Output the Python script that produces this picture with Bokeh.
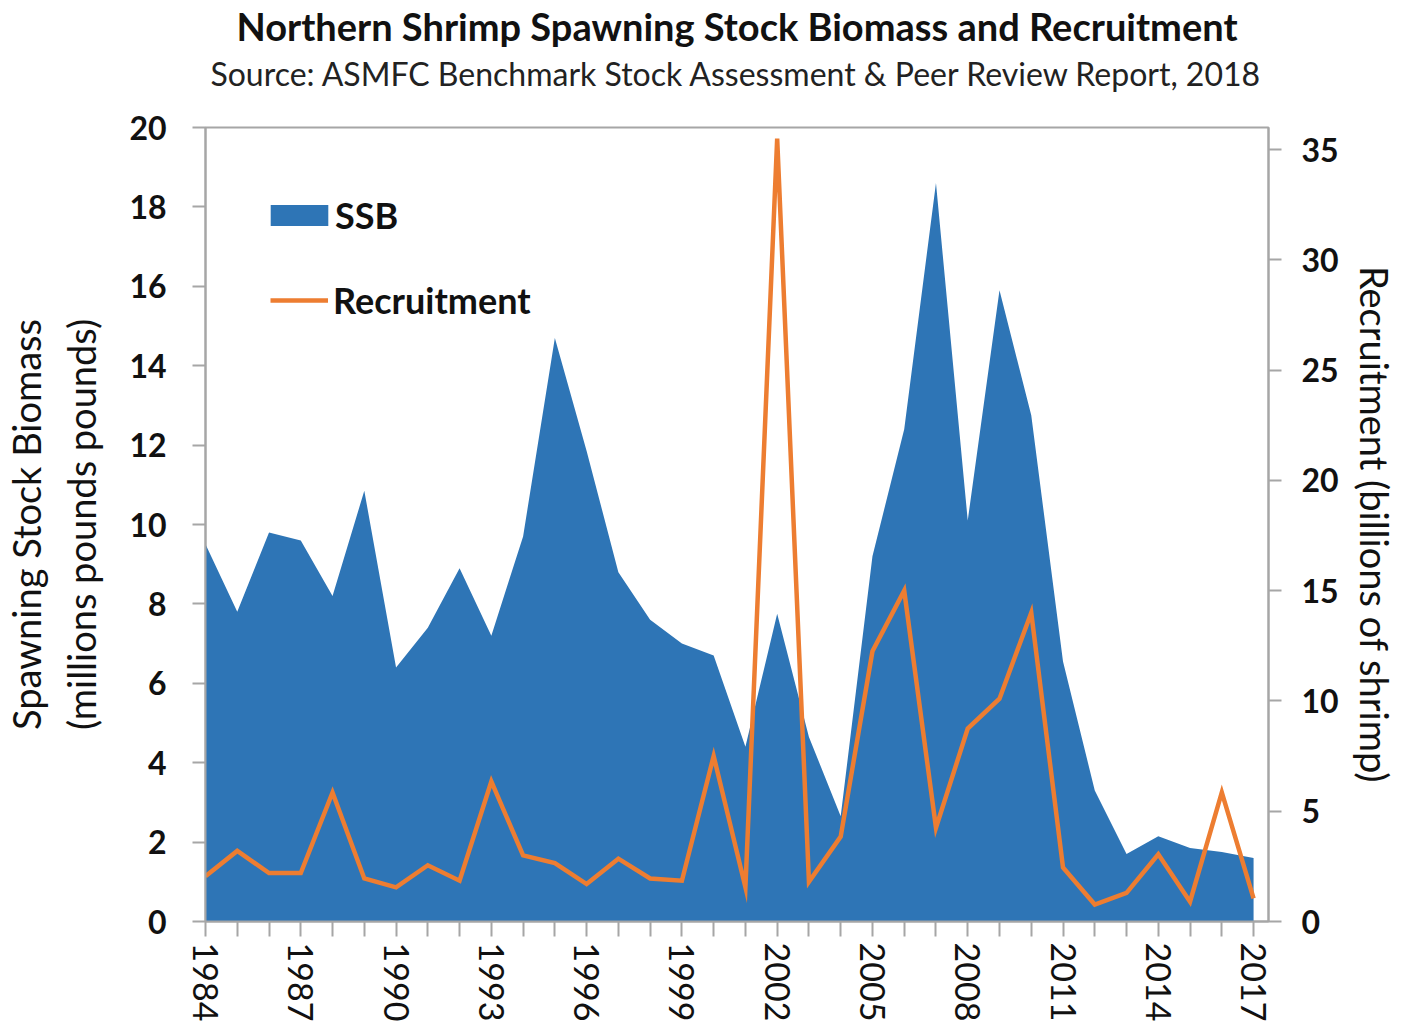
import math
from bokeh.plotting import figure
from bokeh.models import Range1d, LinearAxis, FixedTicker, Title, Legend, LegendItem
from bokeh.embed import file_html
from bokeh.resources import INLINE

# ---- data ----
years = list(range(1984, 2018))
ssb = [9.5, 7.8, 9.8, 9.6, 8.2, 10.85, 6.4, 7.4, 8.9, 7.2,
       9.7, 14.7, 11.85, 8.8, 7.6, 7.0, 6.7, 4.4, 7.75, 4.65,
       2.65, 9.2, 12.4, 18.6, 10.1, 15.9, 12.75, 6.55, 3.3, 1.7,
       2.15, 1.85, 1.75, 1.6]
recruitment = [2.05, 3.2, 2.2, 2.2, 5.85, 1.95, 1.55, 2.55, 1.85, 6.35,
               3.0, 2.65, 1.7, 2.85, 1.95, 1.85, 7.5, 1.55, 35.5, 1.8,
               3.85, 12.25, 15.0, 4.25, 8.75, 10.1, 14.0, 2.45, 0.77, 1.3,
               3.05, 0.9, 5.85, 1.05]
left_ticks = list(range(0, 21, 2))
right_ticks = list(range(0, 36, 5))
labeled_years = [y for y in years if (y - 1984) % 3 == 0]

title_text = "Northern Shrimp Spawning Stock Biomass and Recruitment"
subtitle_text = "Source: ASMFC Benchmark Stock Assessment & Peer Review Report, 2018"

FONT = "Lato"
BLUE = "#2E75B6"
ORANGE = "#ED7D31"
GRAY = "#A6A6A6"

p = figure(width=1402, height=1025, output_backend="svg", toolbar_location=None,
           title=None,
           x_range=Range1d(1984, 2017.47), y_range=Range1d(0, 20),
           min_border_left=205, min_border_right=134,
           min_border_top=127, min_border_bottom=104,
           background_fill_color="white", border_fill_color="white")
p.extra_y_ranges = {"rec": Range1d(0, 36)}
p.grid.visible = False
p.outline_line_color = GRAY
p.outline_line_width = 2

area = p.varea(x=years, y1=0, y2=ssb, fill_color=BLUE)
line = p.line(x=years, y=recruitment, y_range_name="rec",
              line_color=ORANGE, line_width=4.5, line_join="miter")

def style_axis(ax, bold=True):
    ax.axis_line_color = GRAY
    ax.axis_line_width = 2
    ax.major_tick_line_color = GRAY
    ax.major_tick_line_width = 2
    ax.major_tick_in = 0
    ax.major_tick_out = 13
    ax.minor_tick_line_color = None
    ax.major_label_text_font = FONT
    ax.major_label_text_font_size = "32px"
    ax.major_label_text_font_style = "bold" if bold else "normal"
    ax.major_label_text_color = "#111111"
    ax.axis_label_text_font = FONT
    ax.axis_label_text_font_style = "normal"
    ax.axis_label_text_font_size = "38px"
    ax.axis_label_text_color = "#111111"

# bottom axis
xa = p.xaxis[0]
xa.ticker = FixedTicker(ticks=years)
xa.major_label_overrides = {y: (str(y) if y in labeled_years else "") for y in years}
style_axis(xa, bold=False)
xa.major_tick_out = 15
xa.major_label_text_font_size = "34px"
xa.major_label_orientation = -math.pi / 2
xa.major_label_standoff = 6

# left axis
ya = p.yaxis[0]
ya.ticker = FixedTicker(ticks=left_ticks)
style_axis(ya)
ya.major_label_standoff = 26
ya.axis_label = "Spawning Stock Biomass\n(millions pounds pounds)"
ya.axis_label_standoff = 22

# right axis
ra = LinearAxis(y_range_name="rec", ticker=FixedTicker(ticks=right_ticks))
style_axis(ra)
ra.major_label_standoff = 20
ra.axis_label = "Recruitment (billions of shrimp)"
ra.axis_label_text_font_size = "38px"
ra.axis_label_standoff = 10
p.add_layout(ra, "right")

legend_common = dict(orientation="vertical", label_height=40, padding=0, margin=0,
                     label_text_font=FONT, label_text_font_size="36px",
                     label_text_font_style="bold", label_text_color="#111111",
                     border_line_color=None, background_fill_alpha=0)
# area swatches are drawn inset by 10% on every side, so the box is enlarged
legend_ssb = Legend(items=[LegendItem(label="SSB", renderers=[area])],
                    location=(58, 684), glyph_width=72, glyph_height=26,
                    label_standoff=0, **legend_common)
legend_rec = Legend(items=[LegendItem(label="Recruitment", renderers=[line])],
                    location=(65, 599), glyph_width=58, glyph_height=22,
                    label_standoff=5, **legend_common)
p.add_layout(legend_ssb)
p.add_layout(legend_rec)

# spacer between frame and subtitle
p.add_layout(Title(text=" ", text_font_size="1px", standoff=29), "above")
p.add_layout(Title(text=subtitle_text, text_font=FONT, text_font_size="32px",
                   text_font_style="normal", align="center", text_color="#222222",
                   standoff=6), "above")
p.add_layout(Title(text=title_text, text_font=FONT, text_font_size="38px",
                   text_font_style="bold", align="center", text_color="#111111",
                   standoff=0), "above")

open("out.html", "w").write(file_html(p, INLINE))
